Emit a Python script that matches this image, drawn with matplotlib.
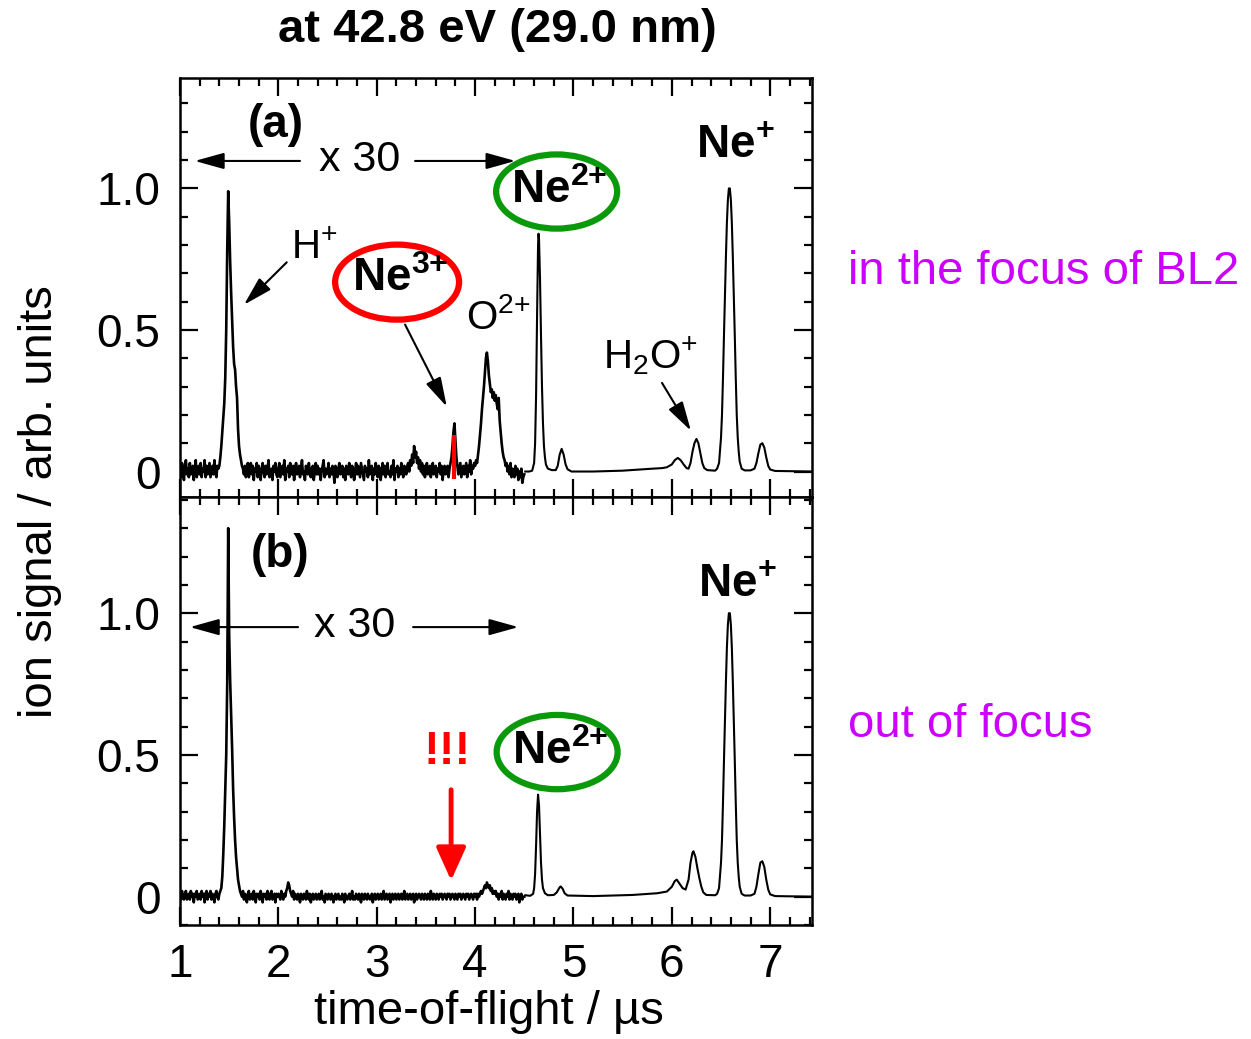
import numpy as np
import matplotlib
matplotlib.use("Agg")
import matplotlib.pyplot as plt
from matplotlib.patches import Ellipse

plt.rcParams['font.family'] = ['Liberation Sans', 'DejaVu Sans']
plt.rcParams['mathtext.fontset'] = 'custom'
plt.rcParams['mathtext.rm'] = 'Liberation Sans'
plt.rcParams['mathtext.it'] = 'Liberation Sans:italic'
plt.rcParams['mathtext.bf'] = 'Liberation Sans:bold'

# signal in percent of the Ne+ peak
# noisy (x 30) part, sampled every 0.01 us from 1.00 to 4.50
t0, dt = 1.00, 0.01
sig_a_noisy = [
    1, -2, 3, 0, -3, 2, 4, -1, 1, -2,
    3, -1, 0, 2, -3, 1, 4, -2, 0, 2,
    -1, 3, -2, 1, 0, 4, -2, 2, -1, 1,
    3, -2, 0, 2, -1, 4, 0, -2, 2, 1,
    2, 5, 9, 14, 19, 24, 33, 50, 78, 99,
    88, 74, 63, 54, 44, 38, 36, 30, 26, 15,
    9, 6, 4, 2, 1, -1, 2, -2, 1, 3,
    -2, 0, 3, -1, 2, -3, 1, 0, 3, -2,
    2, -1, -3, 1, 3, 0, -2, 2, -1, 1,
    4, -2, 0, 1, -3, 2, 0, 3, -1, -2,
    1, 3, -2, 0, 2, -1, 4, -3, 1, 0,
    2, -2, 3, 0, -1, 2, -3, 1, 3, -1,
    0, 2, -2, 1, 4, -1, 0, -3, 2, 1,
    -1, 3, 0, -2, 1, 2, -3, 0, 3, -1,
    2, -1, 1, -3, 0, 2, 4, -2, 1, -1,
    0, 3, -2, 1, -1, 2, 0, -4, 2, 1,
    -2, 1, 3, -1, 0, 2, -2, 1, -3, 2,
    1, -1, 3, 0, -2, 2, 1, -3, 0, 3,
    -1, 2, 0, -2, 3, 1, -1, -3, 2, 0,
    1, -2, 4, -1, 0, 2, -3, 1, -1, 3,
    0, -2, 2, 1, -3, 0, 3, -1, 2, -2,
    1, 3, -1, 0, -2, 2, -1, 4, -3, 1,
    0, 2, -2, 1, -1, 3, 0, -2, 2, 1,
    -1, 2, 3, 0, 4, 2, 6, 3, 9, 5,
    7, 3, 5, 1, 4, 0, 3, -1, 2, -2,
    1, 3, -1, 0, 2, -2, 1, 3, -1, 0,
    2, -2, 1, 0, 3, -1, 2, -3, 1, 2,
    -1, 0, 2, -2, 1, 3, 5, 9, 14, 17,
    11, 5, 2, -1, 1, 3, -2, 0, 2, -1,
    1, 3, -2, 2, 0, 4, -1, 2, 1, 3,
    2, 4, 3, 6, 9, 13, 17, 22, 26, 30,
    35, 40, 42, 39, 34, 31, 28, 29, 26, 28,
    25, 27, 24, 22, 26, 18, 14, 10, 7, 5,
    4, 2, 3, 0, 2, -1, 3, -2, 1, 0,
    -2, 2, -1, 1, -3, 0, -2, 1, -4, -2,
    -1,
]
sig_b_noisy = [
    1, -1, 2, 0, -1, 1, 2, -1, 0, 1,
    -1, 2, 0, 1, -2, 1, 0, 2, -1, 0,
    1, -1, 2, 0, 1, -2, 1, 2, -1, 1,
    0, 2, -1, 1, 0, -2, 1, 2, 0, -1,
    1, 2, 3, 7, 15, 25, 38, 50, 75, 130,
    92, 76, 64, 52, 38, 28, 20, 14, 10, 6,
    4, 2, 1, 0, 2, -1, 1, 0, -2, 1,
    2, -1, 0, 1, -1, 2, 0, -2, 1, 0,
    1, -1, 2, 0, -2, 1, 0, 1, -1, 2,
    0, -1, 1, 2, -1, 0, 1, -2, 1, 0,
    1, 0, -1, 2, 0, -1, 1, 0, 2, 3,
    5, 4, 2, 1, 0, 2, -1, 1, 0, -1,
    1, 0, -2, 1, 0, -1, 1, 0, -1, 2,
    0, -1, 1, -2, 0, 1, -1, 0, 1, -1,
    0, 1, -1, 0, 2, -1, 0, -2, 1, 0,
    -1, 1, 0, -1, 1, 0, -2, 0, 1, -1,
    0, 1, -1, 0, -1, 1, 0, -2, 1, 0,
    -1, 0, 1, -1, 0, 2, -1, 0, -1, 1,
    0, -1, 1, 0, -2, 1, 0, -1, 1, 0,
    -1, 1, 0, -1, 0, 1, -2, 0, 1, -1,
    0, 1, -1, 0, 1, -1, 0, 2, -1, 0,
    1, -1, 0, 1, -2, 0, 1, -1, 0, 1,
    -1, 0, 1, -1, 0, 1, -1, 0, 2, -1,
    0, 1, -1, 0, 1, -1, 0, 1, -2, 0,
    1, -1, 0, 1, 0, -1, 1, 0, -1, 1,
    0, -1, 1, 0, -1, 2, 0, -1, 1, 0,
    -1, 1, 0, -1, 1, 0, 1, -1, 0, 1,
    0, -1, 1, 0, 1, -1, 0, 1, 0, -1,
    1, 0, -1, 1, 0, 1, -1, 0, 1, 0,
    -1, 1, 0, 1, -1, 0, 1, 0, -1, 1,
    0, 1, -1, 1, 0, 1, 2, 1, 2, 3,
    4, 3, 5, 4, 3, 4, 2, 3, 1, 2,
    1, 2, 0, 1, -1, 1, 0, 2, -1, 1,
    0, -1, 1, 0, 2, -1, 1, 0, -1, 1,
    0, 1, -1, 0, 1, -2, 0, 1, -1, 0,
    0,
]

# unscaled part (4.5 us onwards)
tof_a_main = [4.51, 4.55, 4.58, 4.60, 4.61, 4.62, 4.63, 4.64, 4.645, 4.65, 4.66, 4.67,
              4.68, 4.69, 4.70, 4.71, 4.72, 4.74, 4.78, 4.82, 4.84, 4.86, 4.88, 4.90,
              4.92, 4.94, 4.98, 5.20, 5.50, 5.80, 5.90, 5.95, 6.00, 6.03, 6.06, 6.09,
              6.12, 6.15, 6.17, 6.19, 6.21, 6.23, 6.25, 6.27, 6.29, 6.31, 6.33, 6.36,
              6.44, 6.46, 6.48, 6.50, 6.51, 6.52, 6.53, 6.54, 6.55, 6.56, 6.57, 6.58,
              6.59, 6.60, 6.61, 6.62, 6.63, 6.64, 6.65, 6.66, 6.67, 6.68, 6.69, 6.71,
              6.74, 6.80, 6.84, 6.86, 6.88, 6.90, 6.92, 6.94, 6.96, 6.98, 7.00, 7.05, 7.43]
sig_a_main = [0, 0, 0.3, 3, 10, 27, 55, 80, 84, 82, 68, 48,
              30, 17, 9, 5, 2.5, 1, 0.5, 0.5, 2, 6, 8, 6,
              2.5, 0.8, 0, 0, 0.3, 1, 1.2, 1.5, 2.5, 4, 4.8, 4,
              2.5, 1.2, 1, 3, 7, 10, 11.5, 10, 6.5, 3, 1.2, 0.5,
              0.3, 1, 3, 12, 20, 33, 48, 62, 76, 88, 96, 100,
              100, 96, 88, 76, 62, 48, 33, 20, 12, 7, 3.5, 1,
              0.4, 0.4, 1, 3, 6.5, 9.5, 10, 8.5, 5, 2, 0.7, 0.2, 0]

tof_b_main = [4.51, 4.56, 4.59, 4.60, 4.61, 4.62, 4.63, 4.64, 4.65, 4.66, 4.67, 4.68,
              4.69, 4.71, 4.74, 4.80, 4.83, 4.86, 4.87, 4.89, 4.91, 4.94, 5.20, 5.60,
              5.85, 5.95, 6.00, 6.03, 6.05, 6.08, 6.11, 6.14, 6.17, 6.19, 6.21, 6.22,
              6.24, 6.26, 6.28, 6.30, 6.32, 6.35, 6.44, 6.46, 6.48, 6.50, 6.51, 6.52,
              6.53, 6.54, 6.55, 6.56, 6.57, 6.58, 6.59, 6.60, 6.61, 6.62, 6.63, 6.64,
              6.65, 6.66, 6.67, 6.68, 6.69, 6.71, 6.74, 6.80, 6.84, 6.86, 6.88, 6.90,
              6.92, 6.94, 6.96, 6.98, 7.00, 7.05, 7.43]
sig_b_main = [0.5, 0.3, 1, 3, 8, 18, 30, 36, 32, 22, 12, 6,
              3, 1.2, 0.5, 0.6, 1.5, 3.3, 3.6, 2.8, 1.2, 0.4, 0.2, 0.6,
              1.2, 1.8, 3.5, 5.5, 6, 4.5, 3, 2.5, 6, 12, 15.5, 16,
              14, 10, 6.5, 3.5, 1.5, 0.6, 0.5, 1, 3, 12, 20, 33,
              48, 62, 76, 88, 96, 100, 100, 96, 88, 76, 62, 48,
              33, 20, 12, 7, 3.5, 1, 0.4, 0.4, 1, 3.5, 8, 12,
              12.5, 10.5, 6, 2.5, 0.8, 0.2, 0]

x_ticks = [1, 2, 3, 4, 5, 6, 7]
y_ticks = [0, 0.5, 1.0]
y_ticklabels = ['0', '0.5', '1.0']

W, H = 1251, 1039
fig = plt.figure(figsize=(W / 100, H / 100), dpi=100)
ax_a = fig.add_axes([180 / W, 1 - 497 / H, 632 / W, 419 / H])
ax_b = fig.add_axes([180 / W, 1 - 925 / H, 632 / W, 428 / H])

t_noisy = t0 + dt * np.arange(len(sig_a_noisy))
for ax, sig_n, tof_m, sig_m in [(ax_a, sig_a_noisy, tof_a_main, sig_a_main),
                                (ax_b, sig_b_noisy, tof_b_main, sig_b_main)]:
    ax.plot(t_noisy, np.array(sig_n) / 100, color='black', lw=1.9)
    ax.plot(tof_m, np.array(sig_m) / 100, color='black', lw=1.5)
    ax.set_xlim(1, 7.425)
    ax.set_xticks(x_ticks)
    ax.set_xticks(np.arange(1, 7.5, 0.2), minor=True)
    ax.set_yticks(y_ticks)
    ax.set_yticklabels(y_ticklabels)
    ax.set_yticks(np.arange(-0.1, 1.45, 0.1), minor=True)
    ax.tick_params(which='both', direction='in', top=True, right=True, width=1.6)
    ax.tick_params(which='major', length=13, labelsize=33)
    ax.tick_params(which='minor', length=6)
    ax.tick_params(axis='y', pad=14)
    ax.tick_params(axis='x', pad=13)
    for s in ax.spines.values():
        s.set_linewidth(1.8)

ax_a.set_ylim(-0.09, 1.39)
ax_b.set_ylim(-0.1, 1.41)
ax_a.tick_params(labelbottom=False)

arrow_k = dict(arrowstyle='-|>,head_length=0.9,head_width=0.25', color='black',
               lw=1.5, mutation_scale=20, shrinkA=0, shrinkB=0)

# panel (a)
ax_a.text(1.97, 1.225, '(a)', fontsize=33, fontweight='bold', ha='center', va='center')
ax_a.text(2.83, 1.10, 'x 30', fontsize=31, ha='center', va='center')
ax_a.annotate('', xy=(1.15, 1.097), xytext=(2.22, 1.097), arrowprops=arrow_k)
ax_a.annotate('', xy=(4.41, 1.097), xytext=(3.39, 1.097), arrowprops=arrow_k)
ax_a.text(2.37, 0.79, r'H$^{{+}}$', fontsize=29, ha='center', va='center')
ax_a.annotate('', xy=(1.65, 0.589), xytext=(2.085, 0.739), arrowprops=arrow_k)
ax_a.add_patch(Ellipse((3.207, 0.669), 1.26, 0.265, fill=False, ec='#ff0000', lw=4.5))
ax_a.text(3.24, 0.68, r'Ne$^{\mathbf{3{+}}}$', fontsize=33, fontweight='bold',
          ha='center', va='center')
ax_a.annotate('', xy=(3.712, 0.229), xytext=(3.288, 0.519), arrowprops=arrow_k)
ax_a.vlines(3.79, -0.025, 0.128, color='#ff0000', lw=3)
ax_a.text(4.24, 0.545, r'O$^{2{+}}$', fontsize=29, ha='center', va='center')
ax_a.add_patch(Ellipse((4.829, 0.989), 1.23, 0.262, fill=False, ec='#0a990a', lw=4.5))
ax_a.text(4.86, 0.99, r'Ne$^{\mathbf{2{+}}}$', fontsize=33, fontweight='bold',
          ha='center', va='center')
ax_a.text(5.78, 0.41, r'H$_{2}$O$^{{+}}$', fontsize=29, ha='center', va='center')
ax_a.annotate('', xy=(6.194, 0.144), xytext=(5.90, 0.313), arrowprops=arrow_k)
ax_a.text(6.645, 1.15, r'Ne$^{\mathbf{{+}}}$', fontsize=33, fontweight='bold',
          ha='center', va='center')

# panel (b)
ax_b.text(2.017, 1.204, '(b)', fontsize=33, fontweight='bold', ha='center', va='center')
ax_b.text(2.78, 0.956, 'x 30', fontsize=31, ha='center', va='center')
ax_b.annotate('', xy=(1.10, 0.951), xytext=(2.20, 0.951), arrowprops=arrow_k)
ax_b.annotate('', xy=(4.44, 0.951), xytext=(3.37, 0.951), arrowprops=arrow_k)
ax_b.add_patch(Ellipse((4.834, 0.51), 1.23, 0.262, fill=False, ec='#0a990a', lw=4.5))
ax_b.text(4.865, 0.51, r'Ne$^{\mathbf{2{+}}}$', fontsize=33, fontweight='bold',
          ha='center', va='center')
ax_b.text(6.665, 1.10, r'Ne$^{\mathbf{{+}}}$', fontsize=33, fontweight='bold',
          ha='center', va='center')
ax_b.text(3.715, 0.51, '!!!', fontsize=34, fontweight='bold', color='#ff0000',
          ha='center', va='center')
ax_b.annotate('', xy=(3.756, 0.057), xytext=(3.756, 0.377),
              arrowprops=dict(arrowstyle='-|>,head_length=1.0,head_width=0.45',
                              color='#ff0000', lw=3.5, mutation_scale=20,
                              shrinkA=0, shrinkB=0))

fig.text(497 / W, 1 - 30 / H, 'at 42.8 eV (29.0 nm)', fontsize=34, fontweight='bold',
         ha='center', va='center')
fig.text(40 / W, 1 - 502 / H, 'ion signal / arb. units', fontsize=34, rotation=90,
         ha='center', va='center')
fig.text(489 / W, 1 - 1012 / H, 'time-of-flight / µs', fontsize=34,
         ha='center', va='center')
fig.text(848 / W, 1 - 272 / H, 'in the focus of BL2', fontsize=34, color='#cc00ff',
         ha='left', va='center')
fig.text(848 / W, 1 - 725 / H, 'out of focus', fontsize=34, color='#cc00ff',
         ha='left', va='center')

fig.savefig('out.png', dpi=100)
